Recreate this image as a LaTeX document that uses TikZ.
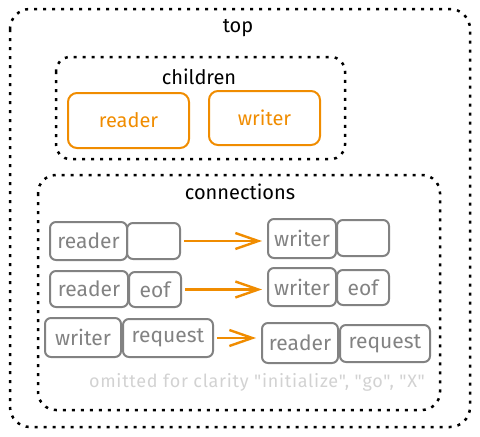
\documentclass[tikz,border=0pt]{standalone}
\usepackage{fontspec}
\setmainfont{Fira Sans}
\newfontfamily\notefont{Fira Sans}
\usepackage{tikz}
\usetikzlibrary{arrows.meta, positioning, calc}
\definecolor{exorange}{HTML}{F08C00}
\definecolor{boxgray}{HTML}{828282}
\definecolor{notegray}{HTML}{D2D2D2}

\begin{document}
\begin{tikzpicture}[x=1pt, y=-1pt, font=\fontsize{20}{24}\selectfont,
    frame/.style={draw=black, line width=2.5pt, dash pattern=on 3pt off 6pt},
    child/.style={draw=exorange, text=exorange, line width=2pt, rounded corners=9pt, inner sep=0pt},
    cell/.style={draw=boxgray, text=boxgray, line width=2pt, rounded corners=6pt, inner sep=0pt, font=\fontsize{21}{25}\selectfont},
    flow/.style={draw=exorange, line width=2.4pt, -{Straight Barb[length=23pt, width=16pt]}, shorten <=3pt, shorten >=5pt}]
    \useasboundingbox (0,0) rectangle (480,437);

    % Frames
    \draw[frame, rounded corners=20pt] (10,9) rectangle (470,427);
    \draw[frame, rounded corners=14pt] (56,57) rectangle (345,159);
    \draw[frame, rounded corners=18pt] (38,175) rectangle (440,410);
    \node (toplbl) at (238,28) {top};
    \node (childlbl) at (199,77) {children};
    \node (connlbl) at (240,192) {connections};

    % Children
    \node[child, minimum width=121pt, minimum height=55pt] (kidreader) at (128.5,120.5) {reader};
    \node[child, minimum width=111pt, minimum height=54pt] (kidwriter) at (264.5,118) {writer};

    % Row 1
    \node[cell, minimum width=77pt, minimum height=38pt] (r1a) at (88.5,241) {reader};
    \node[cell, minimum width=53pt, minimum height=36pt] (r1b) at (153.5,241) {};
    \node[cell, minimum width=68pt, minimum height=39pt] (r1c) at (302,238.5) {writer};
    \node[cell, minimum width=52pt, minimum height=36pt] (r1d) at (363,238) {};
    \draw[flow] (r1b.east) -- (r1b.east -| r1c.west);

    % Row 2
    \node[cell, minimum width=78pt, minimum height=36pt] (r2a) at (89,289) {reader};
    \node[cell, minimum width=52pt, minimum height=35pt] (r2b) at (155,289.5) {eof};
    \node[cell, minimum width=68pt, minimum height=38pt] (r2c) at (302,287) {writer};
    \node[cell, minimum width=52pt, minimum height=35pt] (r2d) at (363,287.5) {eof};
    \draw[flow] (r2b.east) -- (r2b.east -| r2c.west);

    % Row 3
    \node[cell, minimum width=76pt, minimum height=39pt] (r3a) at (83,337.5) {writer};
    \node[cell, minimum width=90pt, minimum height=38pt] (r3b) at (168,338) {request};
    \node[cell, minimum width=76pt, minimum height=40pt] (r3c) at (300,343) {reader};
    \node[cell, minimum width=90pt, minimum height=37pt] (r3d) at (385,343.5) {request};
    \draw[flow] (r3b.east) -- (r3b.east -| r3c.west);

    % Note
    \node[text=notegray, font=\notefont\fontsize{18}{22}\selectfont\addfontfeature{LetterSpace=4}] (note) at (257,382) {omitted for clarity "initialize", "go", "X"};
\end{tikzpicture}
\end{document}
